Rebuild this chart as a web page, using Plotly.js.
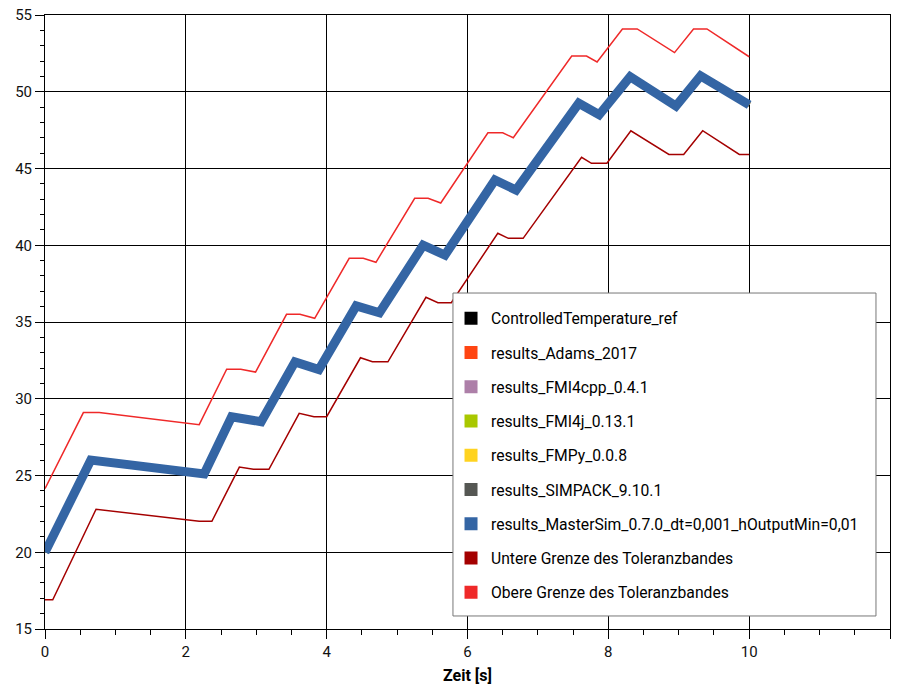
<!DOCTYPE html>
<html>
<head>
<meta charset="utf-8">
<script src="https://cdn.plot.ly/plotly-3.0.1.min.js"></script>
<style>html,body{margin:0;padding:0;background:#fff;}#chart{width:898px;height:685px;}</style>
</head>
<body>
<div id="chart"></div>
<script>
// ---- data ----
const seriesNames = [
  "ControlledTemperature_ref",
  "results_Adams_2017",
  "results_FMI4cpp_0.4.1",
  "results_FMI4j_0.13.1",
  "results_FMPy_0.0.8",
  "results_SIMPACK_9.10.1",
  "results_MasterSim_0.7.0_dt=0,001_hOutputMin=0,01",
  "Untere Grenze des Toleranzbandes",
  "Obere Grenze des Toleranzbandes"
];
const seriesColors = ["#000000", "#ff4512", "#ad7fa8", "#a9c800", "#ffd320", "#555753", "#3465a4", "#a40000", "#ef2929"];

const simX = [0, 0.65, 2.26, 2.65, 3.07, 3.55, 3.89, 4.42, 4.75, 5.37, 5.68, 6.39, 6.69, 7.58, 7.87, 8.31, 8.96, 9.31, 10.0];
const simY = [20.0, 26.0, 25.1, 28.83, 28.5, 32.4, 31.9, 36.05, 35.6, 40.0, 39.36, 44.25, 43.6, 49.25, 48.5, 50.98, 49.07, 51.03, 49.14];

const upperX = [0, 0.545, 0.77, 2.19, 2.58, 2.78, 2.99, 3.43, 3.62, 3.83, 4.32, 4.52, 4.70, 5.25, 5.44, 5.62, 6.29, 6.5, 6.65, 7.48, 7.69, 7.84, 8.2, 8.41, 8.94, 9.21, 9.40, 10.0];
const upperY = [24.15, 29.1, 29.1, 28.31, 31.92, 31.92, 31.74, 35.5, 35.5, 35.24, 39.15, 39.15, 38.89, 43.06, 43.06, 42.75, 47.33, 47.33, 47.0, 52.33, 52.33, 51.94, 54.09, 54.09, 52.55, 54.09, 54.09, 52.28];

const lowerX = [0, 0.11, 0.725, 2.19, 2.37, 2.76, 2.96, 3.18, 3.61, 3.82, 4.0, 4.48, 4.65, 4.87, 5.41, 5.58, 5.77, 6.43, 6.58, 6.79, 7.62, 7.76, 7.98, 8.32, 8.86, 9.07, 9.34, 9.86, 10.0];
const lowerY = [16.9, 16.9, 22.8, 22.02, 22.02, 25.55, 25.4, 25.4, 29.05, 28.83, 28.83, 32.67, 32.41, 32.41, 36.61, 36.26, 36.26, 40.78, 40.45, 40.45, 45.73, 45.34, 45.34, 47.46, 45.92, 45.92, 47.46, 45.92, 45.92];

const xTicks = [0, 2, 4, 6, 8, 10, 12];
const yTicks = [15, 20, 25, 30, 35, 40, 45, 50, 55];

// ---- traces ----
const traces = [];
// result series hidden underneath the MasterSim curve (same curve)
for (let i = 0; i < 6; i++) {
  traces.push({x: simX, y: simY, mode: "lines", line: {color: seriesColors[i], width: 5}, showlegend: false, hoverinfo: "skip"});
}
traces.push({x: lowerX, y: lowerY, mode: "lines", line: {color: seriesColors[7], width: 1.5}, showlegend: false});
traces.push({x: upperX, y: upperY, mode: "lines", line: {color: seriesColors[8], width: 1.5}, showlegend: false});
traces.push({x: simX, y: simY, mode: "lines", line: {color: seriesColors[6], width: 9, shape: "linear"}, showlegend: false});

// legend entries (square swatches)
seriesNames.forEach((n, i) => {
  traces.push({x: [null], y: [null], mode: "markers", name: n, legendgroup: "g" + i,
    marker: {symbol: "square", size: 13, color: seriesColors[i]}, showlegend: true});
});

const font = {family: "Roboto, 'Open Sans', sans-serif", size: 15, color: "#111"};

const layout = {
  width: 898, height: 685,
  margin: {l: 45, r: 8, t: 15, b: 56},
  paper_bgcolor: "#fff", plot_bgcolor: "#fff",
  font: font,
  showlegend: true,
  legend: {
    x: 0.4805, y: 0.5334, xanchor: "left", yanchor: "top",
    bgcolor: "rgba(0,0,0,0)", borderwidth: 0,
    font: {family: "Roboto, sans-serif", size: 15.7, color: "#000"},
    tracegroupgap: 10.85, itemsizing: "trace"
  },
  shapes: [{
    type: "rect", xref: "paper", yref: "paper", layer: "above",
    x0: 0.4828, x1: 0.9834, y0: 0.0212, y1: 0.5472,
    fillcolor: "#fff", line: {color: "#777", width: 1}
  }],
  xaxis: {
    range: [0, 12], tickvals: xTicks, ticktext: xTicks.map(String),
    showgrid: true, gridcolor: "#000", gridwidth: 1,
    showline: true, linecolor: "#000", linewidth: 1, mirror: true,
    ticks: "outside", ticklen: 9, tickcolor: "#000",
    minor: {dtick: 0.5, ticks: "outside", ticklen: 5, tickcolor: "#000", showgrid: false},
    zeroline: false,
    title: {text: "Zeit [s]", font: {family: "Roboto, sans-serif", size: 16, color: "#000", weight: "bold"}, standoff: 10},
    tickfont: font
  },
  yaxis: {
    range: [15, 55], tickvals: yTicks, ticktext: yTicks.map(String),
    showgrid: true, gridcolor: "#000", gridwidth: 1,
    showline: true, linecolor: "#000", linewidth: 1, mirror: true,
    ticks: "outside", ticklen: 9, tickcolor: "#000",
    minor: {dtick: 1, ticks: "outside", ticklen: 4, tickcolor: "#000", showgrid: false},
    zeroline: false,
    tickfont: font
  }
};

Plotly.newPlot("chart", traces, layout, {displayModeBar: false, staticPlot: true});
</script>
</body>
</html>
